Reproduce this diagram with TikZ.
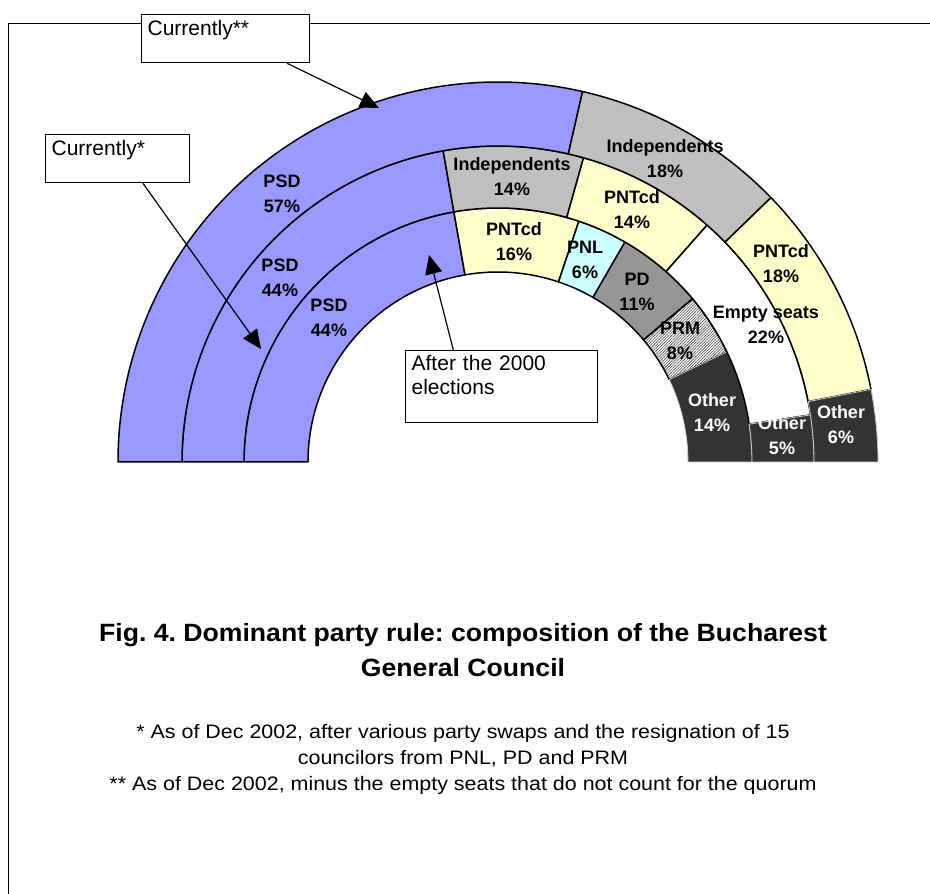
\documentclass[tikz,border=0pt]{standalone}
\usepackage{fontspec}
\setmainfont{Liberation Sans}
\newfontfamily\capfont[FakeStretch=1.065]{Liberation Sans}
\newfontfamily\notefont[FakeStretch=1.1]{Liberation Sans}
\usetikzlibrary{arrows.meta,patterns.meta,calc}
\definecolor{cPSD}{HTML}{9999FF}
\definecolor{cIND}{HTML}{C0C0C0}
\definecolor{cPNT}{HTML}{FFFFCC}
\definecolor{cPNL}{HTML}{CCFFFF}
\definecolor{cPD}{HTML}{969696}
\definecolor{cOTH}{HTML}{333333}
\frenchspacing
\newcommand{\seg}[5]{%
  \path[#5] (#3:#2) arc[start angle=#3,end angle=#4,radius=#2] -- (#4:#1)
    arc[start angle=#4,end angle=#3,radius=#1] -- cycle;}
\tikzset{
  sBase/.style={draw=black, line width=1.5pt, line join=round},
  sPSD/.style={sBase, fill=cPSD},
  sIND/.style={sBase, fill=cIND},
  sPNT/.style={sBase, fill=cPNT},
  sPNL/.style={sBase, fill=cPNL},
  sPD/.style={sBase, fill=cPD},
  sPRM/.style={sBase, pattern={Lines[angle=45,distance=2pt,line width=0.6pt]}, pattern color=black!70},
  sEMP/.style={sBase, fill=white},
  sOTH/.style={draw=white!80!black, line width=0.8pt, fill=cOTH},
  lab/.style={font=\bfseries\fontsize{18}{25}\selectfont, align=center, inner sep=0pt},
  labw/.style={lab, text=white},
  callout/.style={draw, line width=1.3pt, fill=white, anchor=north west, align=left,
    font=\fontsize{21}{24}\selectfont, inner xsep=6pt, inner ysep=0pt, text height=21pt},
  arr/.style={line width=1.2pt, -{Triangle[length=19pt,width=17pt]}},
}
\begin{document}
\begin{tikzpicture}[x=1pt,y=1pt]
\useasboundingbox (0,0) rectangle (930,894);
% frame
\draw[line width=1pt] (940,870) -- (8,870) -- (8,-10);
% doughnut
\begin{scope}[shift={(498,432)}]
  % inner ring (after the 2000 elections)
  \seg{190}{254}{180}{100}{sPSD}
  \seg{190}{254}{100}{71.43}{sPNT}
  \seg{190}{254}{71.43}{60}{sPNL}
  \seg{190}{254}{60}{40}{sPD}
  \seg{190}{254}{40}{25.71}{sPRM}
  \seg{190}{254}{25.71}{0}{sOTH}
  % middle ring (currently*)
  \seg{254}{316}{180}{100}{sPSD}
  \seg{254}{316}{100}{74.29}{sIND}
  \seg{254}{316}{74.29}{48.57}{sPNT}
  \seg{254}{316}{48.57}{8.57}{sEMP}
  \seg{254}{316}{8.57}{0}{sOTH}
  % outer ring (currently**)
  \seg{316}{380}{180}{77.14}{sPSD}
  \seg{316}{380}{77.14}{44.08}{sIND}
  \seg{316}{380}{44.08}{11.02}{sPNT}
  \seg{316}{380}{11.02}{0}{sOTH}
\end{scope}
% labels outer
\node[lab] (oPSD) at (282,700) {PSD\\57\%};
\node[lab] (oIND) at (665,735) {Independents\\18\%};
\node[lab] (oPNT) at (781,630) {PNTcd\\18\%};
\node[labw] (oOTH) at (841,469) {Other\\6\%};
% labels middle
\node[lab] (mPSD) at (280,616) {PSD\\44\%};
\node[lab] (mIND) at (512,717) {Independents\\14\%};
\node[lab] (mPNT) at (632,684) {PNTcd\\14\%};
\node[lab] (mEMP) at (766,569) {Empty seats\\22\%};
\node[labw] (mOTH) at (782,458) {Other\\5\%};
% labels inner
\node[lab] (iPSD) at (329,576) {PSD\\44\%};
\node[lab] (iPNT) at (514,652) {PNTcd\\16\%};
\node[lab] (iPNL) at (585,634) {PNL\\6\%};
\node[lab] (iPD) at (637,602) {PD\\11\%};
\node[lab] (iPRM) at (680,553) {PRM\\8\%};
\node[labw] (iOTH) at (712,481) {Other\\14\%};
% callouts
\node[callout, text width=156pt, text depth=27pt] (cur2) at (141,880) {Currently**};
\node[callout, text width=132pt, text depth=27pt] (cur1) at (45,760) {Currently*};
\node[callout, text width=180pt, text height=20pt, text depth=52pt] (after) at (405,544) {After the 2000\\elections};
\coordinate (t2) at (379,786);
\coordinate (t1) at (261,545);
\coordinate (t3) at (429,639);
\draw[arr] ($(cur2.south west)!0.863!(cur2.south east)$) -- (t2);
\draw[arr] ($(cur1.south west)!0.674!(cur1.south east)$) -- (t1);
\draw[arr] ($(after.north west)!0.25!(after.north east)$) -- (t3);
% caption
\node[font=\capfont\bfseries\fontsize{25}{35}\selectfont, align=center] (cap) at (463,244)
  {Fig. 4. Dominant party rule: composition of the Bucharest\\General Council};
\node[font=\notefont\fontsize{19.5}{26}\selectfont, align=center] (notes) at (463,135)
  {* As of Dec 2002, after various party swaps and the resignation of 15\\
   councilors from PNL, PD and PRM\\
   ** As of Dec 2002, minus the empty seats that do not count for the quorum};
\end{tikzpicture}
\end{document}
